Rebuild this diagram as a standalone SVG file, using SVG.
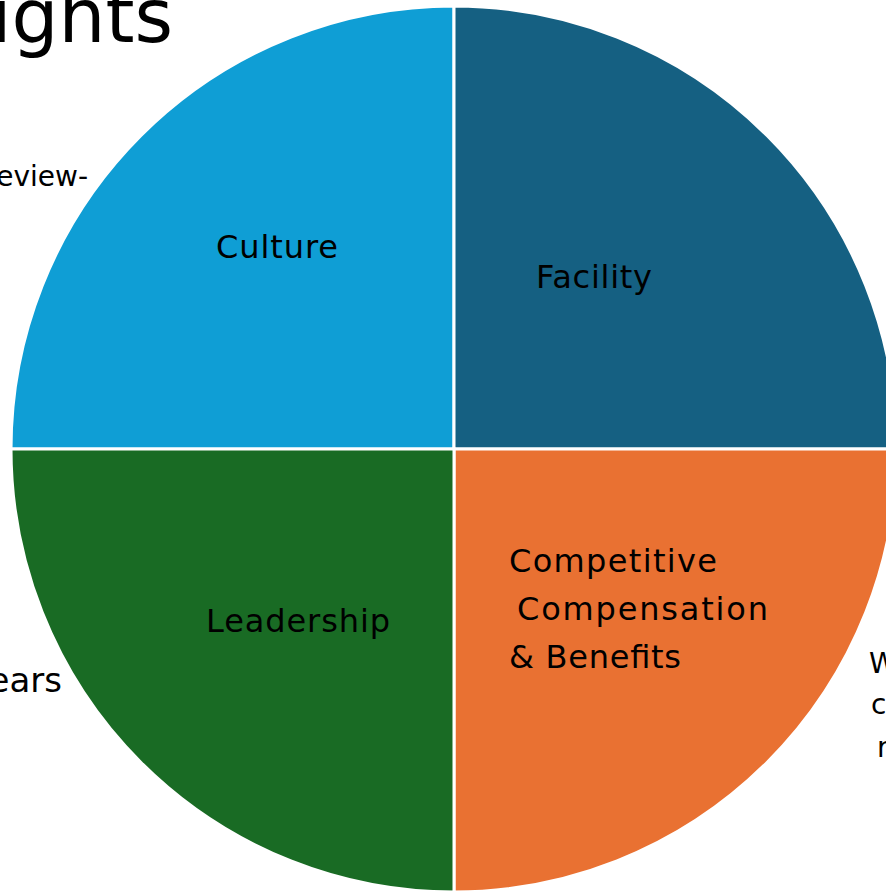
<svg xmlns="http://www.w3.org/2000/svg" width="886" height="892" viewBox="0 0 886 892">
  <style>
    .seg { stroke: #ffffff; stroke-width: 3; stroke-linejoin: miter; }
    .lbl { font-family: "DejaVu Sans", "Liberation Sans", sans-serif; font-size: 32px; fill: #000000; }
    .side { font-family: "DejaVu Sans", "Liberation Sans", sans-serif; font-size: 28px; fill: #000000; }
    .title { font-family: "DejaVu Sans", "Liberation Sans", sans-serif; font-size: 74px; fill: #000000; }
  </style>
  <rect x="0" y="0" width="886" height="892" fill="#ffffff"/>
  <text class="title" x="-9" y="42">ights</text>
  <text class="side" x="88" y="186" text-anchor="end">eview-</text>
  <text class="side" x="62" y="692" text-anchor="end" style="font-size:34px">ears</text>
  <text class="side" x="869" y="673">W</text>
  <text class="side" x="871" y="714">c</text>
  <text class="side" x="877" y="757">r</text>
  <g id="culture">
    <path class="seg" fill="#0F9ED5" d="M454,449 L11,449 A443,443 0 0 1 454,6 Z"/>
    <text class="lbl" x="216" y="258" textLength="122">Culture</text>
  </g>
  <g id="facility">
    <path class="seg" fill="#156082" d="M454,449 L454,6 A443,443 0 0 1 897,449 Z"/>
    <text class="lbl" x="536" y="288" textLength="116">Facility</text>
  </g>
  <g id="compensation">
    <path class="seg" fill="#E97132" d="M454,449 L897,449 A443,443 0 0 1 454,892 Z"/>
    <text class="lbl" x="509" y="572" textLength="208">Competitive</text>
    <text class="lbl" x="517" y="620" textLength="251">Compensation</text>
    <text class="lbl" x="509" y="668" textLength="172">&amp; Benefits</text>
  </g>
  <g id="leadership">
    <path class="seg" fill="#196B24" d="M454,449 L454,892 A443,443 0 0 1 11,449 Z"/>
    <text class="lbl" x="206" y="632" textLength="184">Leadership</text>
  </g>
  <g id="connectors"></g>
</svg>
